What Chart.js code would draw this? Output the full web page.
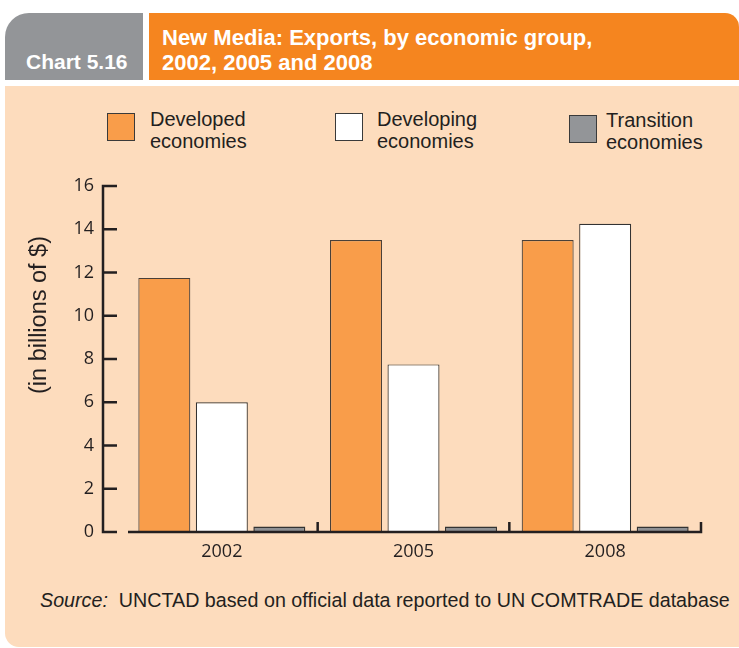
<!DOCTYPE html>
<html lang="en">
<head>
	<meta charset="UTF-8">
	<title>New Media exports</title>
	<script src="https://cdn.jsdelivr.net/npm/chart.js@4.4.1/dist/chart.umd.min.js"></script>
	<style>
		body { margin: 0; background: #fff; }
		#page { position: relative; width: 739px; height: 648px; overflow: hidden; font-family: "Liberation Sans", Arial, sans-serif; }
		.abs { position: absolute; }
		.hdr { color: #fff; font-weight: bold; font-size: 22px; line-height: 25px; white-space: nowrap; }
		.sq { position: absolute; width: 26px; height: 26px; border: 1.5px solid #3a3a3a; }
		.lt { position: absolute; font-size: 20px; line-height: 22px; color: #231f20; white-space: nowrap; }
	</style>
</head>
<body>
	<div id="page">
		<div class="abs" style="left:5px;top:13px;width:138px;height:67px;background:#939598;border-top-left-radius:24px"></div>
		<div class="abs hdr" style="left:26px;top:49px;font-size:21px;">Chart 5.16</div>
		<div class="abs" style="left:149px;top:13px;width:590px;height:67px;background:#f5851f;border-top-right-radius:14px"></div>
		<div class="abs hdr" style="left:162px;top:25px;">New Media: Exports, by economic group,<br>2002, 2005 and 2008</div>
		<div class="abs" style="left:5px;top:86px;width:734px;height:561px;background:#fddcbd;border-bottom-left-radius:14px"></div>

		<div class="sq" style="left:107px;top:113px;background:#f99d4a"></div>
		<div class="lt" style="left:150px;top:108px;">Developed<br>economies</div>
		<div class="sq" style="left:335px;top:113px;background:#fff"></div>
		<div class="lt" style="left:377px;top:108px;">Developing<br>economies</div>
		<div class="sq" style="left:569px;top:115px;background:#939598"></div>
		<div class="lt" style="left:606px;top:109px;">Transition<br>economies</div>

		<div class="abs" style="left:40px;top:589px;font-size:19.7px;color:#231f20;white-space:nowrap"><i>Source:</i>&nbsp; UNCTAD based on official data reported to UN COMTRADE database</div>

		<canvas id="myChart" class="abs" style="left:0;top:0" width="739" height="648"></canvas>
	</div>
<script>
	const years = ['2002', '2005', '2008'];
	const developed = [11.75, 13.5, 13.5];
	const developing = [6.0, 7.75, 14.25];
	const transition = [0.25, 0.25, 0.25];
	const yTicks = [0, 2, 4, 6, 8, 10, 12, 14, 16];

	const ink = '#231f20';

	// axes are drawn by hand: inward ticks, detached x axis line, group separators
	const axisLines = {
		id: 'axisLines',
		afterDatasetsDraw(chart) {
			const { ctx, chartArea: a, scales: { x, y } } = chart;
			const ax = a.left - 23;
			const y0 = y.getPixelForValue(0);
			ctx.save();
			ctx.strokeStyle = ink;
			ctx.lineWidth = 2.5;
			ctx.beginPath();
			ctx.moveTo(ax, y.getPixelForValue(16) - 1.25);
			ctx.lineTo(ax, y0 + 1.25);
			y.ticks.forEach(t => {
				const py = y.getPixelForValue(t.value);
				ctx.moveTo(ax - 1.25, py);
				ctx.lineTo(ax + 14, py);
			});
			ctx.moveTo(a.left + 2, y0);
			ctx.lineTo(a.right + 1.25, y0);
			for (let i = 0; i < years.length; i++) {
				const px = i < years.length - 1
					? (x.getPixelForValue(i) + x.getPixelForValue(i + 1)) / 2
					: a.right;
				ctx.moveTo(px, y0);
				ctx.lineTo(px, y0 - 10);
			}
			ctx.stroke();

			ctx.translate(40, 315);
			ctx.rotate(-Math.PI / 2);
			ctx.fillStyle = ink;
			ctx.font = '23.5px "Liberation Sans", Arial, sans-serif';
			ctx.textAlign = 'center';
			ctx.textBaseline = 'middle';
			ctx.fillText('(in billions of $)', 0, 0);
			ctx.restore();
		}
	};

	const ctx = document.getElementById('myChart').getContext('2d');
	const bars = { barPercentage: 0.904, categoryPercentage: 0.9, borderWidth: 1.2 };
	new Chart(ctx, {
		type: 'bar',
		data: {
			labels: years,
			datasets: [
				{ label: 'Developed economies', data: developed, backgroundColor: '#f99d4a', borderColor: '#4a4038', ...bars },
				{ label: 'Developing economies', data: developing, backgroundColor: '#ffffff', borderColor: '#333333', ...bars },
				{ label: 'Transition economies', data: transition, backgroundColor: '#8e9093', borderColor: '#333333', ...bars, borderWidth: 1.5 }
			]
		},
		options: {
			responsive: false,
			animation: false,
			layout: { padding: { top: 186, left: 60, right: 38, bottom: 86 } },
			plugins: { legend: { display: false }, tooltip: { enabled: false } },
			scales: {
				x: {
					grid: { display: false, drawTicks: false },
					border: { display: false },
					ticks: { color: ink, padding: 9, font: { family: '"Open Sans"', size: 18 } },
					afterFit: s => { s.height = 30; }
				},
				y: {
					min: 0,
					max: 16,
					afterBuildTicks: s => { s.ticks = yTicks.map(v => ({ value: v })); },
					grid: { display: false, drawTicks: false },
					border: { display: false },
					ticks: { color: ink, padding: 32, font: { family: '"Open Sans"', size: 18 } },
					afterFit: s => { s.width = 66; }
				}
			}
		},
		plugins: [axisLines]
	});
</script>
</body>
</html>
